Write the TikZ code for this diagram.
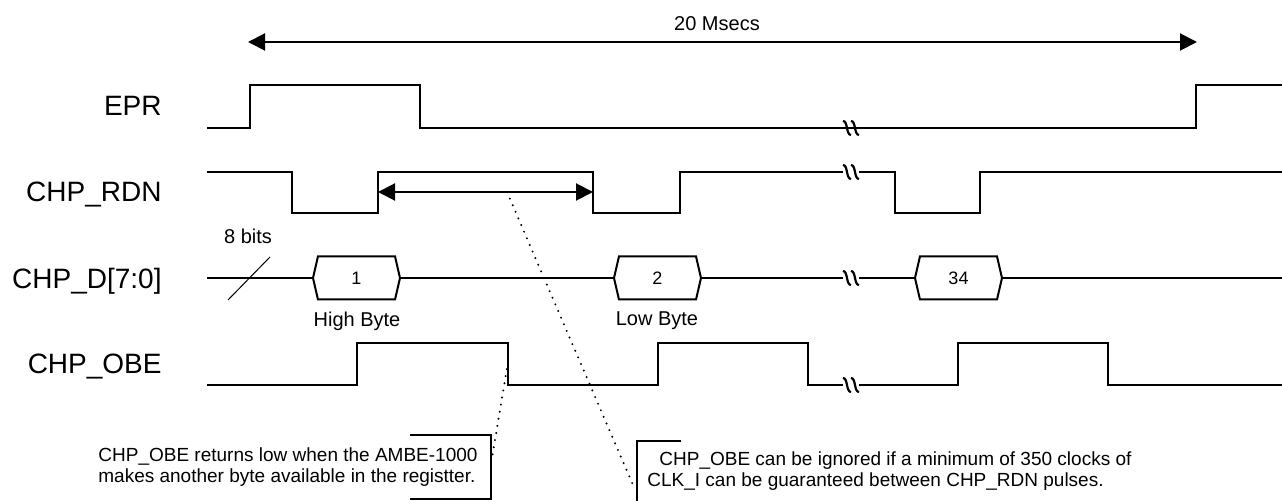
\documentclass[tikz,border=0pt]{standalone}
\usepackage{fontspec}
\setmainfont{Liberation Sans}
\usetikzlibrary{shapes.symbols}
\usetikzlibrary{arrows.meta}

\begin{document}
\begin{tikzpicture}
[x=0.5pt,y=-0.5pt,%
  sigLine/.style={line width=1pt,line join=miter},%
  spanArrow/.style={{Triangle[length=8.5pt,width=8.5pt]}-{Triangle[length=8.5pt,width=8.5pt]},line width=1pt},%
  busNode/.style={shape=signal,signal to=east and west,signal pointer angle=154,draw,line width=1pt,%
    minimum width=43.5pt,minimum height=21.5pt,inner sep=0pt,font=\fontsize{9}{10}\selectfont},%
  sigName/.style={anchor=base east,inner sep=0pt,font=\fontsize{14}{16}\selectfont},%
  smallText/.style={inner sep=0pt,font=\fontsize{10}{12}\selectfont},%
  noteText/.style={inner sep=0pt,align=left,anchor=north west,font=\fontsize{9.5}{10.5}\selectfont},%
  dotLine/.style={line width=1.1pt,line cap=round,dash pattern=on 0pt off 3.6pt},%
  noteBox/.style={line width=0.8pt},%
  brkMark/.pic={
    \draw[line width=1.1pt] (-8,-7) .. controls (-3,-7) and (-5,7) .. (0,7);
    \draw[line width=1.1pt] (0,-7) .. controls (5,-7) and (3,7) .. (8,7);},%
  brkGap/.pic={
    \fill[white] (-8,-3) rectangle (8,3);
    \pic {brkMark};}]
\useasboundingbox (0,0) rectangle (1282,501);
%% signal names
\foreach \nm/\txt/\y in {lEpr/EPR/116, lRdn/CHP\_RDN/202, lDat/CHP\_D[7:0]/289, lObe/CHP\_OBE/374}
  \node[sigName] (\nm) at (162,\y) {\txt};
%% 20 msec span
\coordinate (msL) at (248,42);
\coordinate (msR) at (1197,42);
\draw[spanArrow] (msL) -- (msR);
\node[smallText] (msTxt) at (717,24) {20 Msecs};
%% waveforms
\draw[sigLine] (207,128) -| (250,85) -| (420,128) -| (1196,85) -- (1282,85);
\draw[sigLine] (207,172) -| (292,213) -| (378,172) -| (593,213) -| (680,172)
  -| (895,213) -| (980,172) -- (1282,172);
\draw[sigLine] (207,385) -| (357,343) -| (508,385) -| (658,343) -| (808,385)
  -| (958,343) -| (1108,385) -- (1282,385);
%% data bus
\coordinate (dIn) at (207,278);
\coordinate (dOut) at (1282,278);
\node[busNode] (hexA) at (356.5,278) {1};
\node[busNode] (hexB) at (657.5,278) {2};
\node[busNode] (hexC) at (958.5,278) {34};
\draw[sigLine] (dIn) -- (hexA.west);
\draw[sigLine] (hexA.east) -- (hexB.west);
\draw[sigLine] (hexB.east) -- (hexC.west);
\draw[sigLine] (hexC.east) -- (dOut);
\node[smallText] (hiTxt) at (357,321) {High Byte};
\node[smallText] (loTxt) at (657,321) {Low Byte};
%% bus width mark
\draw[line width=0.5pt] (228,300) -- (270,257);
\node[smallText] (bitTxt) at (248,236) {8 bits};
%% time breaks
\pic at (851,128) {brkMark};
\foreach \y in {172,278,385}
  \pic at (851,\y) {brkGap};
%% read pulse spacing
\coordinate (rdA) at (378,192);
\coordinate (rdB) at (593,192);
\coordinate (rdMid) at (507,192);
\draw[spanArrow] (rdA) -- (rdB);
%% notes
\node[noteText] (noteA) at (98,447) {CHP\_OBE returns low when the AMBE-1000\\makes another byte available in the registter.};
\node[noteText] (noteB) at (647,451) {\hspace*{6pt}CHP\_OBE can be ignored if a minimum of 350 clocks of\\CLK\_I can be guaranteed between CHP\_RDN pulses.};
\draw[noteBox] (410,435) -- (491,435) -- (491,499) -- (410,499);
\draw[noteBox] (681,441) -- (637,441) -- (637,505);
\coordinate (obeFall) at (508,362);
\coordinate (noteATip) at (492,458);
\coordinate (noteBTip) at (633,485);
\draw[dotLine] (obeFall) -- (noteATip);
\draw[dotLine] (rdMid) -- (noteBTip);
\end{tikzpicture}
\end{document}
